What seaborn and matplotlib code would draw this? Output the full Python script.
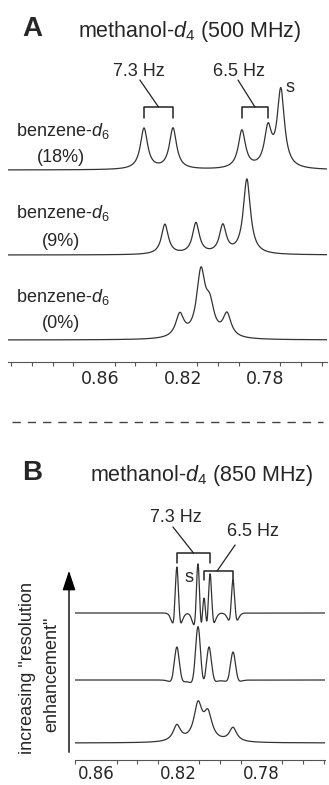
import numpy as np
import pandas as pd
import matplotlib
matplotlib.use("Agg")
import matplotlib.pyplot as plt
import seaborn as sns
from matplotlib.lines import Line2D
from matplotlib.patches import FancyArrowPatch
from matplotlib.transforms import ScaledTranslation

#? Peak lists (ppm, height in px, half width in ppm)
a18_pos = [0.8358, 0.8218, 0.7885, 0.7759, 0.7697]
a18_amp = [41, 41, 38, 38, 78]
a18_wid = [0.0021, 0.0021, 0.0021, 0.0021, 0.0021]

a9_pos = [0.8257, 0.8107, 0.7977, 0.7861]
a9_amp = [30, 31, 28, 75]
a9_wid = [0.0020, 0.0020, 0.0020, 0.0021]

a0_pos = [0.8185, 0.8083, 0.8040, 0.7957]
a0_amp = [23, 64, 28, 23]
a0_wid = [0.0024, 0.0025, 0.0025, 0.0024]

b_top_pos = [0.8209, 0.8107, 0.8078, 0.8049, 0.7938]
b_top_amp = [46, 53, 28, 43, 33]
b_mid_pos = [0.8209, 0.8107, 0.8054, 0.7938]
b_mid_amp = [33, 54, 34, 28]
b_low_pos = [0.8209, 0.8107, 0.8059, 0.7938]
b_low_amp = [16, 36, 26, 14]

a_labels = ["(18%)", "(9%)", "(0%)"]
tick_vals = [0.86, 0.82, 0.78]
tick_labels = ["0.86", "0.82", "0.78"]

#! Setup
sns.set_style("white")
plt.rcParams["font.family"] = ["Liberation Sans", "DejaVu Sans"]
plt.rcParams["mathtext.fontset"] = "custom"
plt.rcParams["mathtext.rm"] = "Liberation Sans"
plt.rcParams["mathtext.it"] = "Liberation Sans:italic"

W, H = 329, 785
fig = plt.figure(figsize=(3.29, 7.85), dpi=100)
fig.patch.set_facecolor("white")


def fx(x):
    return x / W


def fy(y):
    return 1 - y / H


def lorentz(x, pos, amp, wid):
    y = np.zeros_like(x)
    for p, a, w in zip(pos, amp, wid):
        y += a / (1 + ((x - p) / w) ** 2)
    return y


def enhanced(x, pos, amp, wid, dip):
    # narrowed lines with small negative side lobes
    y = np.zeros_like(x)
    for p, a in zip(pos, amp):
        g1 = np.exp(-0.5 * ((x - p) / wid) ** 2)
        g2 = np.exp(-0.5 * ((x - p) / (2.2 * wid)) ** 2)
        y += a * (g1 - dip * g2) / (1 - dip)
    return y


LINE = "#333333"

#? Panel A
xa = np.linspace(0.7474, 0.9015, 4000)
a_base = [192, 107, 22]
a_curves = [lorentz(xa, a18_pos, a18_amp, a18_wid),
            lorentz(xa, a9_pos, a9_amp, a9_wid),
            lorentz(xa, a0_pos, a0_amp, a0_wid)]
dfa = pd.concat([pd.DataFrame({"ppm": xa, "y": c + b, "trace": lab})
                 for c, b, lab in zip(a_curves, a_base, a_labels)])

axA = fig.add_axes([fx(8), fy(362), fx(327) - fx(8), (362 - 40) / H])
sns.lineplot(data=dfa, x="ppm", y="y", units="trace", estimator=None,
             color=LINE, lw=0.9, ax=axA, legend=False)
axA.set_xlim(0.9015, 0.7474)
axA.set_ylim(0, 322)

#? Panel B
xb = np.linspace(0.7494, 0.8701, 4000)
b_base = [147, 80, 17]
b_curves = [enhanced(xb, b_top_pos, b_top_amp, 0.0008, 0.35),
            enhanced(xb, b_mid_pos, b_mid_amp, 0.0012, 0.12),
            lorentz(xb, b_low_pos, b_low_amp, [0.0022, 0.0024, 0.0024, 0.0022])]
dfb = pd.concat([pd.DataFrame({"ppm": xb, "y": c + b, "trace": str(i)})
                 for i, (c, b) in enumerate(zip(b_curves, b_base))])

axB = fig.add_axes([fx(75), fy(760), fx(325) - fx(75), (760 - 490) / H])
sns.lineplot(data=dfb, x="ppm", y="y", units="trace", estimator=None,
             color=LINE, lw=0.9, ax=axB, legend=False)
axB.set_xlim(0.8701, 0.7494)
axB.set_ylim(0, 270)

#? Axes styling
for ax, lo, hi, fs in [(axA, 0.75, 0.90, 12.5), (axB, 0.75, 0.87, 12)]:
    ax.set_facecolor("none")
    sns.despine(ax=ax, left=True)
    ax.set_yticks([])
    ax.set_xlabel("")
    ax.set_ylabel("")
    minors = np.round(np.arange(lo, hi + 0.001, 0.01), 2)
    ax.set_xticks(minors, minor=True)
    ax.set_xticks(tick_vals)
    ax.set_xticklabels(tick_labels, family="DejaVu Sans", fontsize=fs)
    ax.spines["bottom"].set_color("#555555")
    ax.spines["bottom"].set_linewidth(0.8)
    ax.tick_params(axis="x", which="major", length=4, width=0.8,
                   color="#555555", pad=2, direction="out")
    ax.tick_params(axis="x", which="minor", length=3, width=0.8,
                   color="#555555", direction="out", bottom=True)

axB.tick_params(axis="x", which="major", length=3, pad=0.5)

for lab in axA.get_xticklabels():
    lab.set_transform(lab.get_transform() + ScaledTranslation(0.06, 0, fig.dpi_scale_trans))


def bracket(ax, x0, x1, ytop, ybot, tip):
    ax.plot([x0, x0, x1, x1], [ybot, ytop, ytop, ybot], color="#222222", lw=1.1,
            clip_on=False)
    xm = (x0 + x1) / 2 if tip[2] is None else tip[2]
    ax.plot([xm, tip[0]], [ytop, tip[1]], color="#222222", lw=0.9, clip_on=False)


#? Annotations panel A
bracket(axA, a18_pos[0], a18_pos[1], 255, 244, (0.8378, 282, None))
bracket(axA, a18_pos[2], a18_pos[3], 255, 244, (0.7904, 282, None))
axA.text(0.8383, 290, "7.3 Hz", ha="center", va="center", fontsize=13)
axA.text(0.7900, 290, "6.5 Hz", ha="center", va="center", fontsize=13)
axA.text(0.7653, 275, "s", ha="center", va="center", fontsize=13)

#? Annotations panel B
bracket(axB, b_top_pos[0], b_top_pos[3], 207, 197, (0.8228, 233, None))
bracket(axB, b_top_pos[2], b_top_pos[4], 189, 180, (0.7928, 215, 0.8015))
axB.text(0.8214, 242, "7.3 Hz", ha="center", va="center", fontsize=13)
axB.text(0.7842, 228, "6.5 Hz", ha="center", va="center", fontsize=13)
axB.text(0.8151, 183, "s", ha="center", va="center", fontsize=13)

#? Titles and labels
fig.text(fx(32), fy(29), "A", fontsize=20, fontweight="bold", ha="center", va="center")
fig.text(fx(190), fy(31), r"methanol-$d_4$ (500 MHz)", fontsize=15.5, ha="center", va="center")
fig.text(fx(32), fy(473), "B", fontsize=20, fontweight="bold", ha="center", va="center")
fig.text(fx(202), fy(475), r"methanol-$d_4$ (850 MHz)", fontsize=15.5, ha="center", va="center")

for yb, yp, lab in zip([131, 213, 297], [157, 242, 323], a_labels):
    fig.text(fx(63), fy(yb), r"benzene-$d_6$", fontsize=13, ha="center", va="center")
    fig.text(fx(61), fy(yp), lab, fontsize=13, ha="center", va="center")

fig.add_artist(Line2D([fx(12), fx(323)], [fy(422), fy(422)], transform=fig.transFigure,
                      ls=(0, (6, 5)), color="#444444", lw=1))

fig.add_artist(FancyArrowPatch((fx(69), fy(755)), (fx(69), fy(568)),
                               transform=fig.transFigure,
                               arrowstyle="-|>,head_length=0.6,head_width=0.2",
                               mutation_scale=20, lw=1, color="black"))
fig.text(fx(28), fy(668), 'increasing "resolution', rotation=90, fontsize=13,
         ha="center", va="center")
fig.text(fx(52), fy(674), 'enhancement"', rotation=90, fontsize=13,
         ha="center", va="center")

fig.savefig("out.png", dpi=100)
